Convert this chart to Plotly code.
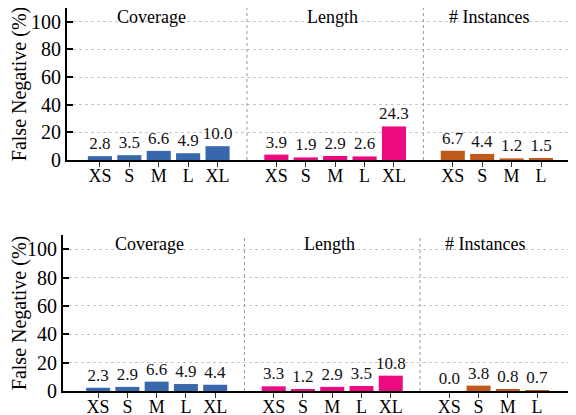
import plotly.graph_objects as go
from plotly.subplots import make_subplots

categories_cov = ["XS", "S", "M", "L", "XL"]
categories_len = ["XS", "S", "M", "L", "XL"]
categories_ins = ["XS", "S", "M", "L"]
group_titles = ["Coverage", "Length", "# Instances"]

top_cov = [2.8, 3.5, 6.6, 4.9, 10.0]
top_len = [3.9, 1.9, 2.9, 2.6, 24.3]
top_ins = [6.7, 4.4, 1.2, 1.5]

bot_cov = [2.3, 2.9, 6.6, 4.9, 4.4]
bot_len = [3.3, 1.2, 2.9, 3.5, 10.8]
bot_ins = [0.0, 3.8, 0.8, 0.7]

yticks = [0, 20, 40, 60, 80, 100]

colors = ["#3967ab", "#ec0a80", "#bf5a1b"]
FONT = "Liberation Serif"

pos_cov = [0, 1, 2, 3, 4]
pos_len = [6, 7, 8, 9, 10]
pos_ins = [12, 13, 14, 15]
dividers = [5, 11]
title_x = [1.76, 7.92, 13.23]

fig = make_subplots(rows=2, cols=1, vertical_spacing=0.2)

panels = [(top_cov, top_len, top_ins), (bot_cov, bot_len, bot_ins)]
for r, (cov, ln, ins) in enumerate(panels, start=1):
    for pos, vals, col in [(pos_cov, cov, colors[0]), (pos_len, ln, colors[1]), (pos_ins, ins, colors[2])]:
        fig.add_trace(go.Bar(
            x=pos, y=vals, marker=dict(color=col, line=dict(width=0)), width=0.82,
            text=[f"{v:.1f}" for v in vals], textposition="outside",
            constraintext="none",
            textfont=dict(family=FONT, size=17, color="#111"),
            cliponaxis=False, showlegend=False), row=r, col=1)

tickvals = pos_cov + pos_len + pos_ins
ticktext = categories_cov + categories_len + categories_ins

xranges = {1: [-1.12, 16.19], 2: [-1.2, 16.33]}
for r in (1, 2):
    fig.update_xaxes(row=r, col=1, range=xranges[r], tickmode="array",
                     tickvals=tickvals, ticktext=ticktext, ticks="outside",
                     ticklen=5, tickwidth=1.2, tickcolor="#333", showgrid=False,
                     showline=True, linecolor="black", linewidth=2.2, automargin=False,
                     ticklabelstandoff=-7,
                     tickfont=dict(family=FONT, size=18, color="black"), zeroline=False)
    fig.update_yaxes(row=r, col=1, range=[0, 110], tickmode="array", tickvals=yticks,
                     ticks="inside", ticklen=6, tickwidth=1.5, tickcolor="black",
                     showline=True, linecolor="black", linewidth=2.2, automargin=False,
                     showgrid=True, gridcolor="#c8c8c8", griddash="dot", gridwidth=1,
                     zeroline=False,
                     tickfont=dict(family=FONT, size=20, color="black"),
                     title=dict(text="False Negative (%)", standoff=3,
                                font=dict(family=FONT, size=20, color="black")))

fig.update_layout(
    xaxis=dict(domain=[0.0078, 1]), xaxis2=dict(domain=[0, 1]),
    yaxis=dict(domain=[0.6031, 1.0]), yaxis2=dict(domain=[0.0, 0.4073]),
)

for r, (xr, yr) in enumerate([("x", "y"), ("x2", "y2")]):
    for d in dividers:
        fig.add_shape(type="line", xref=xr, yref=f"{yr} domain", x0=d, x1=d, y0=0, y1=1,
                      line=dict(color="#999", width=1, dash="dot"))
    for t, tx in zip(group_titles, title_x):
        fig.add_annotation(x=tx, y=103.5, xref=xr, yref=yr, text=t, showarrow=False,
                           font=dict(family=FONT, size=18, color="black"),
                           xanchor="center", yanchor="middle")

# page body has an 8px margin, so the figure is sized to fill the rest of the window
fig.update_layout(
    width=568, height=407, margin=dict(l=55, r=0, t=0, b=24),
    plot_bgcolor="white", paper_bgcolor="white", bargap=0.2,
    font=dict(family=FONT, color="black"),
)

fig.write_html("out.html")
